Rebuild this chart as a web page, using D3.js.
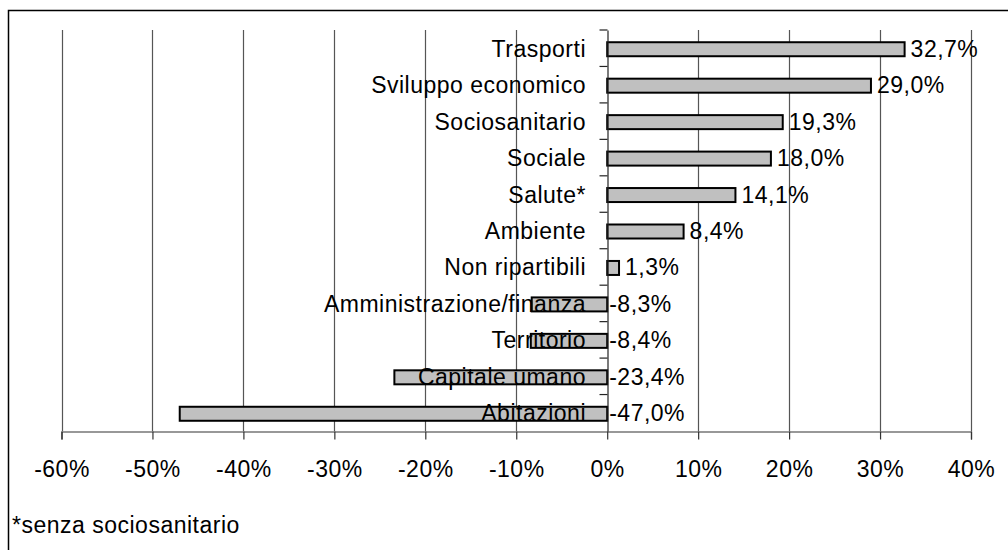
<!DOCTYPE html>
<html>
<head>
<meta charset="utf-8">
<script src="https://cdn.jsdelivr.net/npm/d3@7"></script>
<style>
  body { margin: 0; background: #fff; }
  svg text { font-family: "Liberation Sans", Arial, sans-serif; font-size: 23px; letter-spacing: 0.5px; fill: #000; }
</style>
</head>
<body>
<script>
// chart data
let categories = ["Trasporti", "Sviluppo economico", "Sociosanitario", "Sociale", "Salute*",
  "Ambiente", "Non ripartibili", "Amministrazione/finanza", "Territorio", "Capitale umano", "Abitazioni"]
let values = [32.7, 29.0, 19.3, 18.0, 14.1, 8.4, 1.3, -8.3, -8.4, -23.4, -47.0]
let labels = ["32,7%", "29,0%", "19,3%", "18,0%", "14,1%", "8,4%", "1,3%", "-8,3%", "-8,4%", "-23,4%", "-47,0%"]
let xTicks = [-60, -50, -40, -30, -20, -10, 0, 10, 20, 30, 40]
let note = "*senza sociosanitario"

let svgWidth = 1008
let svgHeight = 550

let svg = d3.select("body")
  .append("svg")
  .attr("width", svgWidth)
  .attr("height", svgHeight)

// outer frame
svg.append("rect")
  .attr("x", 8.5).attr("y", 10.5)
  .attr("width", 1010).attr("height", 560)
  .attr("fill", "none").attr("stroke", "#000").attr("stroke-width", 1.5)

let plot = { left: 61.5, right: 971, top: 30, bottom: 431 }

let x = d3.scaleLinear().domain([-60, 40]).range([plot.left, plot.right])
let y = d3.scaleBand().domain(categories).range([plot.top, plot.bottom])

// gridlines
svg.append("g").selectAll("line")
  .data(xTicks.filter(d => d !== 0))
  .enter().append("line")
  .attr("x1", d => Math.round(x(d)) + 0.5).attr("x2", d => Math.round(x(d)) + 0.5)
  .attr("y1", plot.top).attr("y2", plot.bottom)
  .attr("stroke", "#555").attr("stroke-width", 1.2)

// bottom axis
let bottomAxis = d3.axisBottom(x)
  .tickValues(xTicks)
  .tickSize(8)
  .tickPadding(21)
  .tickFormat(d => d + "%")

let xg = svg.append("g")
  .attr("transform", `translate(0, ${plot.bottom + 0.5})`)
  .call(bottomAxis)
xg.attr("font-size", null).attr("font-family", null)
xg.select(".domain").attr("stroke", "#333").attr("stroke-width", 1.2)
xg.selectAll(".tick line").attr("stroke", "#333").attr("stroke-width", 1.2)

// bars
let barH = 14
svg.append("g").selectAll("rect")
  .data(values)
  .enter().append("rect")
  .attr("x", d => x(Math.min(0, d)))
  .attr("y", (d, i) => y(categories[i]) + y.bandwidth() / 2 - barH / 2 + 1)
  .attr("width", d => Math.abs(x(d) - x(0)))
  .attr("height", barH)
  .attr("fill", "#c0c0c0")
  .attr("stroke", "#000")
  .attr("stroke-width", 2)

// category axis at zero
let leftAxis = d3.axisLeft(y).tickSize(0).tickFormat("")
let yg = svg.append("g")
  .attr("transform", `translate(${Math.round(x(0)) + 0.5}, 0)`)
  .call(leftAxis)
yg.select(".domain").attr("stroke", "#222").attr("stroke-width", 1.2)
yg.selectAll("line.sep")
  .data(categories)
  .enter().append("line")
  .attr("class", "sep")
  .attr("x1", -8).attr("x2", 0)
  .attr("y1", d => y(d)).attr("y2", d => y(d))
  .attr("stroke", "#222").attr("stroke-width", 1.2)

// category labels
svg.append("g").selectAll("text")
  .data(categories)
  .enter().append("text")
  .attr("x", 586)
  .attr("y", d => y(d) + y.bandwidth() / 2 + 8.5)
  .attr("text-anchor", "end")
  .text(d => d)

// value labels
svg.append("g").selectAll("text")
  .data(values)
  .enter().append("text")
  .attr("x", d => d > 0 ? x(d) + 6 : x(0) + 2)
  .attr("y", (d, i) => y(categories[i]) + y.bandwidth() / 2 + 8.5)
  .text((d, i) => labels[i])

// footnote
svg.append("text")
  .attr("x", 12)
  .attr("y", 533)
  .text(note)
</script>
</body>
</html>
